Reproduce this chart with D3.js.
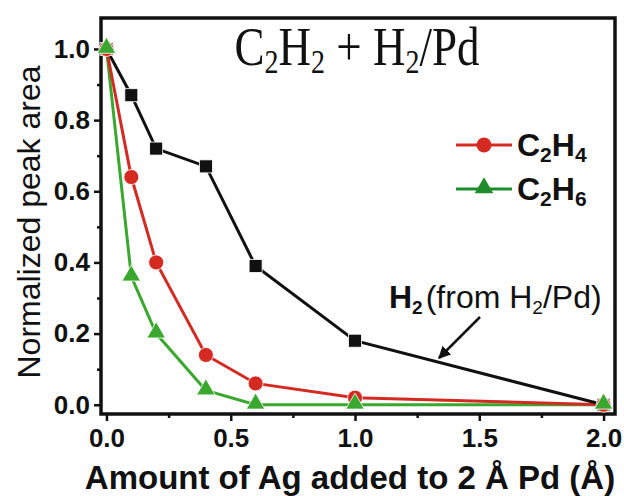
<!DOCTYPE html>
<html lang="en">
<head>
  <meta charset="UTF-8">
  <title>C2H2 + H2/Pd</title>
  <script src="https://d3js.org/d3.v7.min.js"></script>
  <style>
    body { margin: 0; background: white; font-family: Arial, "Liberation Sans", sans-serif; }
    .tick text { font-family: Arial, "Liberation Sans", sans-serif; font-weight: bold; font-size: 26px; fill: #111; }
  </style>
</head>
<body>
<div id="chart"></div>
<script>
// data
var agAmount = [0, 0.1, 0.2, 0.4, 0.6, 1.0, 2.0];
var h2Area   = [1.0, 0.87, 0.72, 0.67, 0.39, 0.18, 0.0];
var c2h4Area = [1.0, 0.64, 0.40, 0.14, 0.06, 0.02, 0.0];
var c2h6Area = [1.0, 0.36, 0.20, 0.04, 0.0, 0.0, 0.0];
var xTicks = [0, 0.5, 1.0, 1.5, 2.0];
var yTicks = [0, 0.2, 0.4, 0.6, 0.8, 1.0];

var width = 624, height = 496;
// plot frame edges (don't call these "top", window.top is read-only)
var pLeft = 101, pRight = 615, pTop = 18, pBottom = 414;

var red = "#d42a22", green = "#3aa82e", legendGreen = "#1e8c2a";

var svg = d3.select("#chart").append("svg")
  .attr("width", width)
  .attr("height", height);

var x = d3.scaleLinear().domain([-0.022, 2.046]).range([pLeft, pRight]);
var y = d3.scaleLinear().domain([-0.026, 1.087]).range([pBottom, pTop]);

// axes (major ticks labelled, minor ticks shorter)
var xAxis = d3.axisBottom(x).tickValues(xTicks).tickFormat(d3.format(".1f")).tickSize(7).tickPadding(8);
var xMinor = d3.axisBottom(x).tickValues([0.25, 0.75, 1.25, 1.75]).tickFormat("").tickSize(4);
var yAxis = d3.axisLeft(y).tickValues(yTicks).tickFormat(d3.format(".1f")).tickSize(7).tickPadding(4);
var yMinor = d3.axisLeft(y).tickValues([0.1, 0.3, 0.5, 0.7, 0.9]).tickFormat("").tickSize(4);

function styleAxis(g) {
  g.attr("font-size", null).attr("font-family", null);
  g.select(".domain").remove();
  g.selectAll("line").attr("stroke", "#111").attr("stroke-width", 2.5);
}

svg.append("g").attr("transform", "translate(0," + pBottom + ")").call(xAxis).call(styleAxis);
svg.append("g").attr("transform", "translate(0," + pBottom + ")").call(xMinor).call(styleAxis);
svg.append("g").attr("transform", "translate(" + pLeft + ",0)").call(yAxis).call(styleAxis);
svg.append("g").attr("transform", "translate(" + pLeft + ",0)").call(yMinor).call(styleAxis);

// frame
svg.append("rect")
  .attr("x", pLeft).attr("y", pTop)
  .attr("width", pRight - pLeft).attr("height", pBottom - pTop)
  .attr("fill", "none").attr("stroke", "#111").attr("stroke-width", 3.5);

// series
var line = d3.line()
  .x(function(d) { return x(d[0]); })
  .y(function(d) { return y(d[1]); });

function pairs(vals) {
  return agAmount.map(function(a, i) { return [a, vals[i]]; });
}

svg.append("path").datum(pairs(c2h6Area))
  .attr("d", line).attr("fill", "none").attr("stroke", green).attr("stroke-width", 3);
svg.append("path").datum(pairs(c2h4Area))
  .attr("d", line).attr("fill", "none").attr("stroke", red).attr("stroke-width", 3);
svg.append("path").datum(pairs(h2Area))
  .attr("d", line).attr("fill", "none").attr("stroke", "#111").attr("stroke-width", 3);

var sq = 13;
svg.selectAll(".sq").data(pairs(h2Area)).enter().append("rect")
  .attr("x", function(d) { return x(d[0]) - sq / 2; })
  .attr("y", function(d) { return y(d[1]) - sq / 2; })
  .attr("width", sq).attr("height", sq)
  .attr("fill", "#111").attr("stroke", "white").attr("stroke-width", 0.8);

svg.selectAll(".ci").data(pairs(c2h4Area)).enter().append("circle")
  .attr("cx", function(d) { return x(d[0]); })
  .attr("cy", function(d) { return y(d[1]); })
  .attr("r", 7.5)
  .attr("fill", red).attr("stroke", "white").attr("stroke-width", 0.8);

var tri = d3.symbol().type(d3.symbolTriangle).size(150);
svg.selectAll(".tr").data(pairs(c2h6Area)).enter().append("path")
  .attr("d", tri)
  .attr("transform", function(d) { return "translate(" + x(d[0]) + "," + (y(d[1]) - 1) + ")"; })
  .attr("fill", green).attr("stroke", "white").attr("stroke-width", 0.8);

// title (the reference lettering is a little taller than wide)
var title = svg.append("text")
  .attr("transform", "translate(357,65) scale(1,1.2)")
  .attr("text-anchor", "middle")
  .attr("font-family", "'Liberation Serif', 'Times New Roman', serif")
  .attr("font-size", "45px").attr("fill", "#111");
title.append("tspan").text("C");
title.append("tspan").text("2").attr("font-size", "28px").attr("dy", 7);
title.append("tspan").text("H").attr("dy", -7);
title.append("tspan").text("2").attr("font-size", "28px").attr("dy", 7);
title.append("tspan").text(" + H").attr("dy", -7);
title.append("tspan").text("2").attr("font-size", "28px").attr("dy", 7);
title.append("tspan").text("/Pd").attr("dy", -7);

// legend
var legend = [
  { label: "4", color: red, shape: "circle", yy: 145 },
  { label: "6", color: legendGreen, shape: "triangle", yy: 189 }
];
legend.forEach(function(l) {
  svg.append("line").attr("x1", 456).attr("x2", 512).attr("y1", l.yy).attr("y2", l.yy)
    .attr("stroke", l.color).attr("stroke-width", 3);
  if (l.shape === "circle") {
    svg.append("circle").attr("cx", 484).attr("cy", l.yy).attr("r", 7.5).attr("fill", l.color);
  } else {
    svg.append("path").attr("d", tri).attr("transform", "translate(484," + (l.yy - 1) + ")").attr("fill", l.color);
  }
  var t = svg.append("text").attr("x", 517).attr("y", l.yy + 11)
    .attr("font-family", "Arial, 'Liberation Sans', sans-serif")
    .attr("font-weight", "bold").attr("font-size", "32px").attr("fill", "#111");
  t.append("tspan").text("C");
  t.append("tspan").text("2").attr("font-size", "21px").attr("dy", 6);
  t.append("tspan").text("H").attr("dy", -6);
  t.append("tspan").text(l.label).attr("font-size", "21px").attr("dy", 6);
});

// annotation with arrow
svg.append("defs").append("marker")
  .attr("id", "arrow").attr("viewBox", "0 0 10 10")
  .attr("refX", 9).attr("refY", 5)
  .attr("markerWidth", 5).attr("markerHeight", 5)
  .attr("orient", "auto")
  .append("path").attr("d", "M0,0 L10,5 L0,10 z").attr("fill", "#111");

var ann = svg.append("text").attr("x", 389).attr("y", 308)
  .attr("font-family", "Arial, 'Liberation Sans', sans-serif")
  .attr("font-size", "32px").attr("fill", "#111");
ann.append("tspan").text("H").attr("font-weight", "bold");
ann.append("tspan").text("2").attr("font-weight", "bold").attr("font-size", "19px").attr("dy", 6);
ann.append("tspan").text("(from H").attr("dy", -6).attr("dx", 3);
ann.append("tspan").text("2").attr("font-size", "19px").attr("dy", 6);
ann.append("tspan").text("/Pd)").attr("dy", -6);

svg.append("line").attr("x1", 480).attr("y1", 317).attr("x2", 439).attr("y2", 358)
  .attr("stroke", "#111").attr("stroke-width", 2.5).attr("marker-end", "url(#arrow)");

// axis titles
svg.append("text")
  .attr("transform", "translate(40," + ((pTop + pBottom) / 2 + 6) + ") rotate(-90)")
  .attr("text-anchor", "middle")
  .attr("font-family", "Arial, 'Liberation Sans', sans-serif")
  .attr("font-size", "32px").attr("fill", "#111")
  .text("Normalized peak area");

svg.append("text")
  .attr("x", 350).attr("y", 489)
  .attr("text-anchor", "middle")
  .attr("font-family", "Arial, 'Liberation Sans', sans-serif")
  .attr("font-weight", "bold").attr("font-size", "33px").attr("fill", "#111")
  .text("Amount of Ag added to 2 Å Pd (Å)");
</script>
</body>
</html>
